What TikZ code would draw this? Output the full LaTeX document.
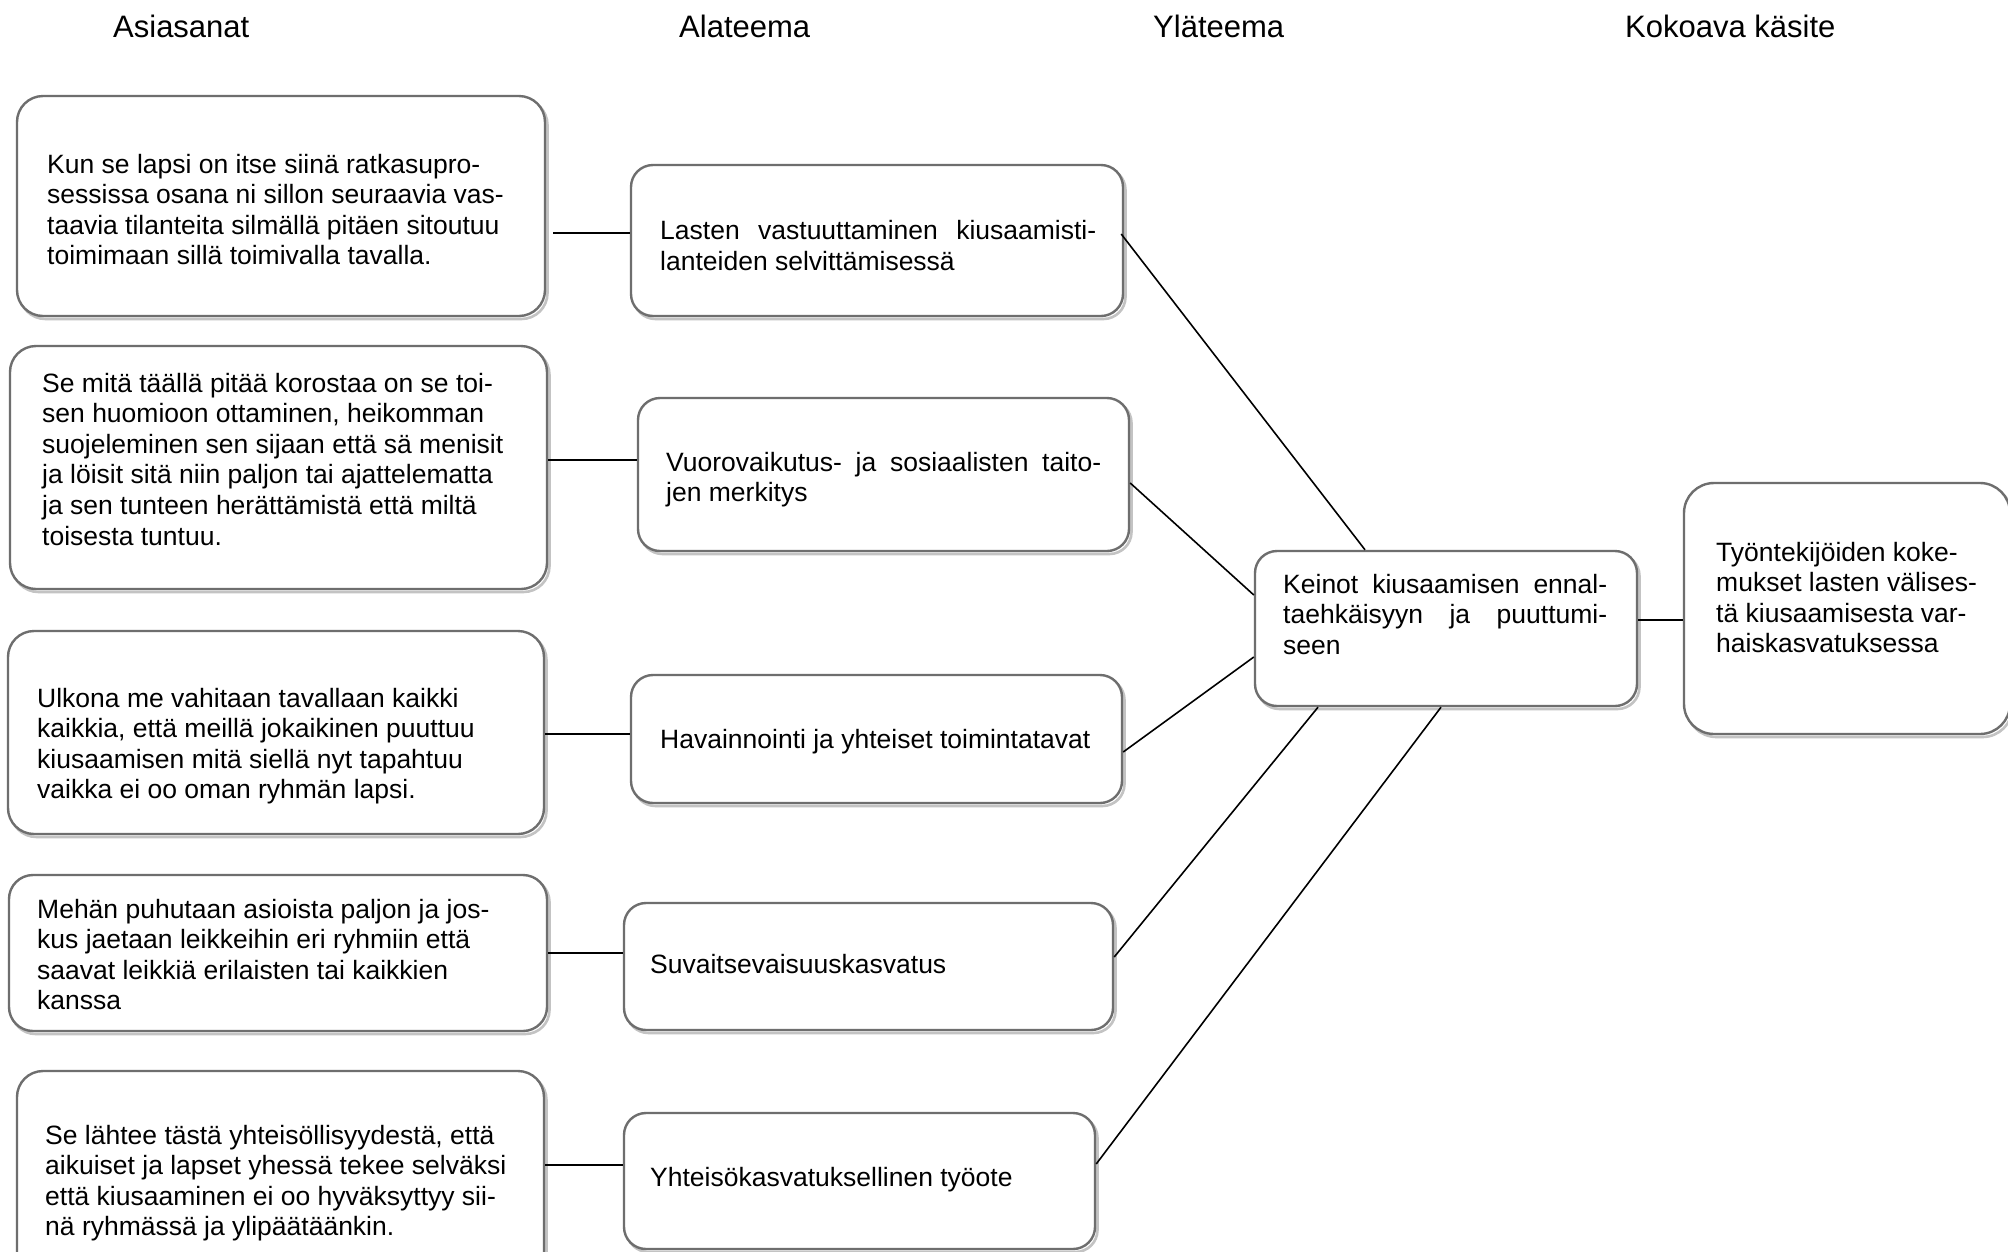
\documentclass[tikz,border=0pt]{standalone}
\usepackage{fontspec}
\setmainfont{Liberation Sans}
\usetikzlibrary{calc}
\definecolor{boxgray}{RGB}{110,110,110}
\definecolor{shadowgray}{RGB}{195,195,195}
\tikzset{
  box/.style={rounded corners=22pt, fill=white, draw=boxgray, line width=2.4pt, inner sep=0pt,
    preaction={draw=shadowgray, line width=2.6pt, transform canvas={xshift=2.5pt,yshift=-3pt}}},
  txt/.style={anchor=base west, align=left, inner sep=0pt, font=\fontsize{26.5}{30.6}\selectfont},
  head/.style={anchor=base west, inner sep=0pt, font=\fontsize{31}{36}\selectfont},
  conn/.style={draw=black, line width=1.6pt}
}
\newcommand{\jline}[2]{\makebox[#1pt][s]{#2}}
\begin{document}
\begin{tikzpicture}[x=1pt,y=-1pt]
\useasboundingbox (0,0) rectangle (2008,1251);
\clip (0,0) rectangle (2008,1251);
\fill[white] (0,0) rectangle (2008,1251);

% headers
\node[head] (h1) at (113,37) {Asiasanat};
\node[head] (h2) at (679,37) {Alateema};
\node[head] (h3) at (1153,37) {Yläteema};
\node[head] (h4) at (1625,37) {Kokoava käsite};

% column A
\node[box, minimum width=528pt, minimum height=220pt, rounded corners=26pt] (a1) at (281,206) {};
\node[box, minimum width=537pt, minimum height=243pt, rounded corners=26pt] (a2) at (278.5,467.5) {};
\node[box, minimum width=536pt, minimum height=203pt, rounded corners=26pt] (a3) at (276,732.5) {};
\node[box, minimum width=538pt, minimum height=156pt, rounded corners=24pt] (a4) at (278,953) {};
\node[box, minimum width=527pt, minimum height=221pt, rounded corners=26pt] (a5) at (280.5,1181.5) {};

% text nodes: anchored at the baseline of their last line
\node[txt] (a1t) at (47,264.8) {Kun se lapsi on itse siinä ratkasupro-\\sessissa osana ni sillon seuraavia vas-\\taavia tilanteita silmällä pitäen sitoutuu\\toimimaan sillä toimivalla tavalla.};
\node[txt] (a2t) at (42,545) {Se mitä täällä pitää korostaa on se toi-\\sen huomioon ottaminen, heikomman\\suojeleminen sen sijaan että sä menisit\\ja löisit sitä niin paljon tai ajattelematta\\ja sen tunteen herättämistä että miltä\\toisesta tuntuu.};
\node[txt] (a3t) at (37,798.8) {Ulkona me vahitaan tavallaan kaikki\\kaikkia, että meillä jokaikinen puuttuu\\kiusaamisen mitä siellä nyt tapahtuu\\vaikka ei oo oman ryhmän lapsi.};
\node[txt] (a4t) at (37,1009.8) {Mehän puhutaan asioista paljon ja jos-\\kus jaetaan leikkeihin eri ryhmiin että\\saavat leikkiä erilaisten tai kaikkien\\kanssa};
\node[txt] (a5t) at (45,1235.8) {Se lähtee tästä yhteisöllisyydestä, että\\aikuiset ja lapset yhessä tekee selväksi\\että kiusaaminen ei oo hyväksyttyy sii-\\nä ryhmässä ja ylipäätäänkin.};

% column B
\node[box, minimum width=492pt, minimum height=151pt] (b1) at (877,240.5) {};
\node[box, minimum width=491pt, minimum height=153pt] (b2) at (883.5,474.5) {};
\node[box, minimum width=491pt, minimum height=128pt] (b3) at (876.5,739) {};
\node[box, minimum width=489pt, minimum height=127pt] (b4) at (868.5,966.5) {};
\node[box, minimum width=471pt, minimum height=136pt] (b5) at (859.5,1181) {};

\node[txt] (b1t) at (660,270.1) {\jline{436}{Lasten vastuuttaminen kiusaamisti-}\\lanteiden selvittämisessä};
\node[txt] (b2t) at (666,501.6) {\jline{435}{Vuorovaikutus- ja sosiaalisten taito-}\\jen merkitys};
\node[txt] (b3t) at (660,748) {Havainnointi ja yhteiset toimintatavat};
\node[txt] (b4t) at (650,973) {Suvaitsevaisuuskasvatus};
\node[txt] (b5t) at (650,1186) {Yhteisökasvatuksellinen työote};

% column C and D
\node[box, minimum width=382pt, minimum height=155pt] (c) at (1446,628.5) {};
\node[txt] (ct) at (1283,654.2) {\jline{324}{Keinot kiusaamisen ennal-}\\\jline{324}{taehkäisyyn ja puuttumi-}\\seen};
\node[box, minimum width=326pt, minimum height=251pt, rounded corners=30pt] (d) at (1847,608.5) {};
\node[txt] (dt) at (1716,652.8) {Työntekijöiden koke-\\mukset lasten välises-\\tä kiusaamisesta var-\\haiskasvatuksessa};

% connectors A -> B
\coordinate (l1) at ($(b1.west)+(0,-7.5)$);
\draw[conn] (l1) -- ($(l1 -| a1.east)+(7,0)$);
\coordinate (l2) at ($(b2.west)+(0,-14.5)$);
\draw[conn] (l2) -- (l2 -| a2.east);
\coordinate (l3) at ($(b3.west)+(0,-5)$);
\draw[conn] (l3) -- (l3 -| a3.east);
\coordinate (l4) at ($(b4.west)+(0,-13.5)$);
\draw[conn] (l4) -- (l4 -| a4.east);
\coordinate (l5) at ($(b5.west)+(0,-16)$);
\draw[conn] (l5) -- (l5 -| a5.east);

% connectors B -> C
\draw[conn] ($(b1.east)+(-3,-6.5)$) -- ($(c.north)+(-81,0)$);
\draw[conn] ($(b2.east)+(0,8.5)$) -- ($(c.west)+(0,-33.5)$);
\draw[conn] ($(b3.east)+(0,13)$) -- ($(c.west)+(0,28.5)$);
\draw[conn] ($(b4.east)+(0,-9.5)$) -- ($(c.south)+(-128,0)$);
\draw[conn] ($(b5.east)+(0,-17)$) -- ($(c.south)+(-5,0)$);

% C -> D
\coordinate (l6) at ($(c.east)+(0,-8.5)$);
\draw[conn] (l6) -- (l6 -| d.west);
\end{tikzpicture}
\end{document}
